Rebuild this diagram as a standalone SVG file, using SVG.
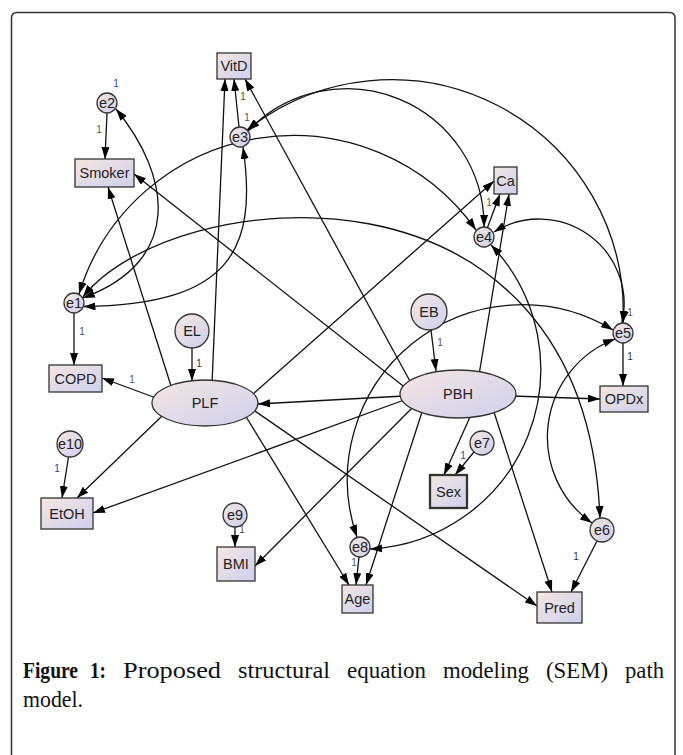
<svg xmlns="http://www.w3.org/2000/svg" width="683" height="755" viewBox="0 0 683 755">
<style>
.n{fill:url(#g);stroke:#333;stroke-width:1.3}
.sx{stroke-width:2.3}
.t{font-family:"Liberation Sans",Arial,sans-serif;font-size:14.5px;fill:#222;text-anchor:middle}
.w{font-family:"Liberation Sans",Arial,sans-serif;font-size:10px;text-anchor:middle;fill:#555}
.bl{fill:#2a45a0}
.ol{fill:#5a4a18}
.dk{fill:#333}
.ln line{stroke:#111;stroke-width:1.3;marker-end:url(#a)}
.cv path{stroke:#111;stroke-width:1.3;fill:none;marker-start:url(#b);marker-end:url(#b)}
.cap{font-family:"Liberation Serif","Times New Roman",serif;font-size:24px;fill:#111}
</style>
<defs>
<linearGradient id="g" x1="0" y1="0" x2="1" y2="1">
<stop offset="0" stop-color="#f4e6e2"/>
<stop offset="1" stop-color="#cfd0ec"/>
</linearGradient>
<marker id="a" markerUnits="userSpaceOnUse" markerWidth="12" markerHeight="8" refX="12" refY="4" orient="auto"><path d="M0,0 L12,4 L0,8 Z" fill="#000"/></marker>
<marker id="b" markerUnits="userSpaceOnUse" markerWidth="12" markerHeight="8" refX="12" refY="4" orient="auto-start-reverse"><path d="M0,0 L12,4 L0,8 Z" fill="#000"/></marker>
</defs>

<path d="M11.5,755 V18 Q11.5,12.5 17,12.5 H669.5 Q675,12.5 675,18 V755" fill="none" stroke="#333" stroke-width="1.5"/>

<g id="connectors">
<g class="ln">
<line x1="107" y1="113" x2="105" y2="159"/>
<line x1="74" y1="313" x2="74" y2="365"/>
<line x1="192" y1="348" x2="192" y2="381"/>
<line x1="156" y1="398" x2="102" y2="378"/>
<line x1="172" y1="389" x2="108" y2="187"/>
<line x1="212" y1="384" x2="225" y2="79"/>
<line x1="239" y1="127" x2="234" y2="79"/>
<line x1="411" y1="383" x2="245" y2="79"/>
<line x1="407" y1="389" x2="134" y2="174"/>
<line x1="252" y1="395" x2="494" y2="181"/>
<line x1="404" y1="396" x2="258" y2="404"/>
<line x1="407" y1="399" x2="93" y2="513"/>
<line x1="162" y1="416" x2="77" y2="498"/>
<line x1="68.5" y1="457" x2="62" y2="498"/>
<line x1="235" y1="527" x2="235" y2="547"/>
<line x1="414" y1="406" x2="255" y2="566"/>
<line x1="245" y1="415" x2="349" y2="585"/>
<line x1="252" y1="409" x2="537" y2="606"/>
<line x1="423" y1="409" x2="366" y2="585"/>
<line x1="359" y1="557" x2="356" y2="585"/>
<line x1="470" y1="417" x2="444" y2="475"/>
<line x1="474" y1="452" x2="455" y2="475"/>
<line x1="493" y1="409" x2="552" y2="592"/>
<line x1="597" y1="541" x2="571" y2="592"/>
<line x1="512" y1="396" x2="600" y2="399"/>
<line x1="623" y1="343" x2="623" y2="386"/>
<line x1="431" y1="330" x2="436" y2="371"/>
<line x1="479" y1="375" x2="509" y2="194"/>
<line x1="487.5" y1="227.5" x2="500" y2="194"/>
</g>
<g class="cv">
<path d="M116,109 C170,175 185,260 83,298"/>
<path d="M243,147 C258,250 230,305 83.5,306.5"/>
<path d="M79,294 A224,224 0 0 1 476,230"/>
<path d="M248,131 A137,137 0 0 1 484,227"/>
<path d="M247,130 A232,232 0 0 1 623,323"/>
<path d="M494,232 A85,85 0 0 1 622,323"/>
<path d="M491,245 A180,180 0 0 1 370,549"/>
<path d="M613,330 A175,175 0 0 0 357,537"/>
<path d="M615,339 A105,105 0 0 0 592,523"/>
<path d="M83,297 C170,185 585,140 600,518"/>
</g>
<g>
<text class="w bl" x="116" y="87">1</text>
<text class="w" x="99" y="133">1</text>
<text class="w ol" x="243" y="100">1</text>
<text class="w" x="247" y="121">1</text>
<text class="w" x="489" y="206">1</text>
<text class="w" x="82" y="335">1</text>
<text class="w dk" x="199" y="367">1</text>
<text class="w" x="132" y="383">1</text>
<text class="w bl" x="57" y="472">1</text>
<text class="w ol" x="242" y="533">1</text>
<text class="w" x="354" y="566">1</text>
<text class="w" x="440" y="346">1</text>
<text class="w dk" x="630" y="360">1</text>
<text class="w" x="630" y="316">1</text>
<text class="w bl" x="463" y="459">1</text>
<text class="w dk" x="576" y="560">1</text>
</g>
</g>

<g id="VitD"><rect class="n" x="217" y="53" width="34" height="26"/><text class="t" x="234" y="71">VitD</text></g>
<g id="Smoker"><rect class="n" x="75" y="159" width="59" height="28"/><text class="t" x="104.5" y="178">Smoker</text></g>
<g id="Ca"><rect class="n" x="494" y="167" width="23" height="27"/><text class="t" x="505.5" y="185.5">Ca</text></g>
<g id="COPD"><rect class="n" x="49" y="365" width="53" height="27"/><text class="t" x="75.5" y="383.5">COPD</text></g>
<g id="EtOH"><rect class="n" x="41" y="498" width="52" height="31"/><text class="t" x="67" y="518.5">EtOH</text></g>
<g id="BMI"><rect class="n" x="217" y="547" width="38" height="34"/><text class="t" x="236" y="569">BMI</text></g>
<g id="Age"><rect class="n" x="342" y="585" width="31" height="28"/><text class="t" x="357.5" y="604">Age</text></g>
<g id="OPDx"><rect class="n" x="600" y="386" width="48" height="26"/><text class="t" x="624" y="404">OPDx</text></g>
<g id="Sex"><rect class="n sx" x="430" y="475" width="37" height="33"/><text class="t" x="448.5" y="496.5">Sex</text></g>
<g id="Pred"><rect class="n" x="537" y="592" width="45" height="31"/><text class="t" x="559.5" y="612.5">Pred</text></g>

<g id="PLF"><ellipse class="n" cx="205" cy="403" rx="53" ry="23"/><text class="t" x="205" y="408">PLF</text></g>
<g id="PBH"><ellipse class="n" cx="458" cy="394" rx="58" ry="24"/><text class="t" x="458" y="399">PBH</text></g>

<g id="e1"><circle class="n" cx="74" cy="303" r="10"/><text class="t" x="74" y="308">e1</text></g>
<g id="e2"><circle class="n" cx="107" cy="103" r="10"/><text class="t" x="107" y="108">e2</text></g>
<g id="e3"><circle class="n" cx="240" cy="137" r="10"/><text class="t" x="240" y="142">e3</text></g>
<g id="e4"><circle class="n" cx="484" cy="237" r="10"/><text class="t" x="484" y="242">e4</text></g>
<g id="e5"><circle class="n" cx="623" cy="333" r="10"/><text class="t" x="623" y="338">e5</text></g>
<g id="e6"><circle class="n" cx="602" cy="530" r="12"/><text class="t" x="602" y="535">e6</text></g>
<g id="e7"><circle class="n" cx="482" cy="443" r="12"/><text class="t" x="482" y="448">e7</text></g>
<g id="e8"><circle class="n" cx="360" cy="547" r="10"/><text class="t" x="360" y="552">e8</text></g>
<g id="e9"><circle class="n" cx="235" cy="515" r="12"/><text class="t" x="235" y="520">e9</text></g>
<g id="e10"><circle class="n" cx="70" cy="444" r="13"/><text class="t" x="70" y="449">e10</text></g>
<g id="EL"><circle class="n" cx="192" cy="331" r="17"/><text class="t" x="192" y="336">EL</text></g>
<g id="EB"><circle class="n" cx="429" cy="312" r="18"/><text class="t" x="429" y="317">EB</text></g>

<g id="caption">
<text class="cap" x="23" y="678" font-weight="bold" textLength="55" lengthAdjust="spacingAndGlyphs">Figure</text>
<text class="cap" x="90" y="678" font-weight="bold" textLength="16" lengthAdjust="spacingAndGlyphs">1:</text>
<text class="cap" x="123" y="678" textLength="98" lengthAdjust="spacingAndGlyphs">Proposed</text>
<text class="cap" x="238" y="678" textLength="92" lengthAdjust="spacingAndGlyphs">structural</text>
<text class="cap" x="347" y="678" textLength="79" lengthAdjust="spacingAndGlyphs">equation</text>
<text class="cap" x="443" y="678" textLength="86" lengthAdjust="spacingAndGlyphs">modeling</text>
<text class="cap" x="546" y="678" textLength="62" lengthAdjust="spacingAndGlyphs">(SEM)</text>
<text class="cap" x="625" y="678" textLength="39" lengthAdjust="spacingAndGlyphs">path</text>
<text class="cap" x="23" y="707" textLength="60" lengthAdjust="spacingAndGlyphs">model.</text>
</g>
</svg>
